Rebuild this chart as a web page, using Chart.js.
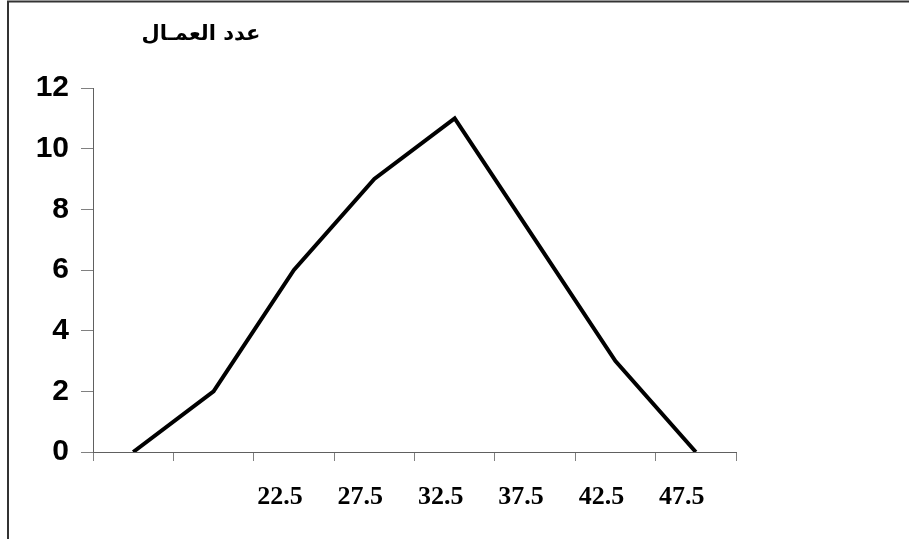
<!DOCTYPE html>
<html>
<head>
<meta charset="utf-8">
<script src="https://cdn.jsdelivr.net/npm/chart.js@4/dist/chart.umd.min.js"></script>
<style>
  html, body { margin: 0; padding: 0; background: #fff; }
  #wrap { width: 909px; height: 539px; }
</style>
</head>
<body>
<div id="wrap"><canvas id="poly"></canvas></div>
<script>
// class midpoints (first two left unlabeled as in the original)
const categories = ["", "", "22.5", "27.5", "32.5", "37.5", "42.5", "47.5"];
const workers = [0, 2, 6, 9, 11, 7, 3, 0];
const yTicks = [0, 2, 4, 6, 8, 10, 12];
const yTitle = "عدد العمـال";

// frame around the chart + the y title in the top left
const decor = {
  id: 'decor',
  beforeDraw(chart) {
    const c = chart.ctx;
    c.save();
    c.strokeStyle = '#333';
    c.lineWidth = 2;
    c.beginPath();
    c.moveTo(8, 539);
    c.lineTo(8, 1.5);
    c.lineTo(909, 1.5);
    c.stroke();
    c.restore();
  },
  afterDraw(chart) {
    const c = chart.ctx;
    const a = chart.chartArea;
    c.save();
    c.fillStyle = '#000';
    c.font = 'bold 21px "DejaVu Sans", sans-serif';
    c.textAlign = 'center';
    c.textBaseline = 'middle';
    c.fillText(yTitle, a.left + 108, 35);
    c.restore();
  }
};

new Chart(document.getElementById("poly"), {
  type: 'line',
  data: {
    labels: categories,
    datasets: [{
      label: yTitle,
      data: workers,
      borderColor: "#000",
      borderWidth: 4,
      pointRadius: 0,
      tension: 0,
      fill: false
    }]
  },
  options: {
    responsive: true,
    maintainAspectRatio: false,
    animation: false,
    layout: { padding: { left: 36, right: 173, top: 88, bottom: 26 } },
    plugins: {
      legend: { display: false },
      tooltip: { enabled: false }
    },
    scales: {
      x: {
        type: 'category',
        offset: true,
        afterFit(scale) { scale.height = 61; },
        grid: { offset: true, drawOnChartArea: false, drawTicks: true, tickLength: 9, color: '#808080' },
        border: { color: '#606060', width: 1 },
        ticks: {
          autoSkip: false, maxRotation: 0, padding: 21, labelOffset: -14,
          color: '#000',
          font: { family: '"Liberation Serif", "Times New Roman", serif', size: 26, weight: 'bold' }
        }
      },
      y: {
        min: 0, max: 12,
        afterBuildTicks(scale) { scale.ticks = yTicks.map(v => ({ value: v })); },
        afterFit(scale) { scale.width = 57; },
        grid: { drawOnChartArea: false, drawTicks: true, tickLength: 12, color: '#808080' },
        border: { color: '#606060', width: 1 },
        ticks: {
          padding: 12,
          color: '#000',
          font: { family: '"Liberation Sans", Arial, sans-serif', size: 30, weight: 'bold' }
        }
      }
    }
  },
  plugins: [decor]
});
</script>
</body>
</html>
